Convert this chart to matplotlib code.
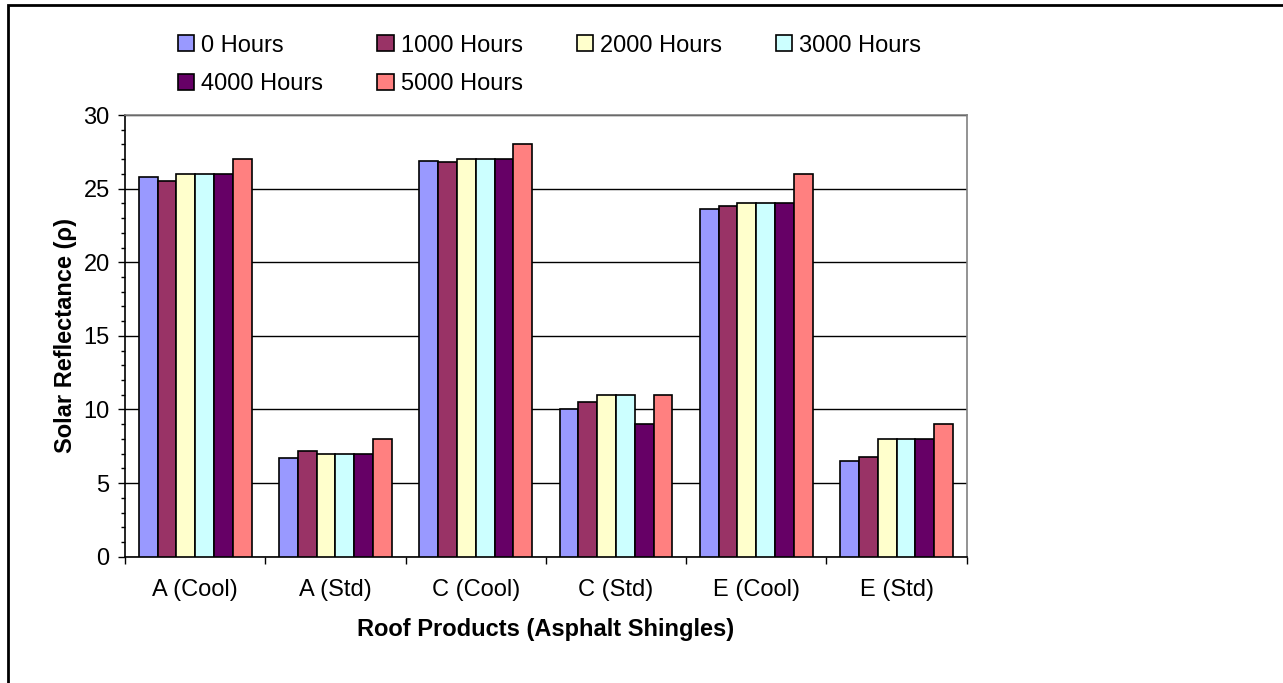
import matplotlib
matplotlib.use("Agg")
import matplotlib.pyplot as plt
import numpy as np
from matplotlib.patches import Rectangle
from matplotlib.ticker import MultipleLocator, FixedLocator, NullFormatter

plt.rcParams['font.family'] = ['Liberation Sans', 'DejaVu Sans']

categories = ["A (Cool)", "A (Std)", "C (Cool)", "C (Std)", "E (Cool)", "E (Std)"]
series_names = ["0 Hours", "1000 Hours", "2000 Hours", "3000 Hours", "4000 Hours", "5000 Hours"]
hours_0 = [25.8, 6.7, 26.9, 10.0, 23.6, 6.5]
hours_1000 = [25.5, 7.2, 26.8, 10.5, 23.8, 6.8]
hours_2000 = [26.0, 7.0, 27.0, 11.0, 24.0, 8.0]
hours_3000 = [26.0, 7.0, 27.0, 11.0, 24.0, 8.0]
hours_4000 = [26.0, 7.0, 27.0, 9.0, 24.0, 8.0]
hours_5000 = [27.0, 8.0, 28.0, 11.0, 26.0, 9.0]
series_values = [hours_0, hours_1000, hours_2000, hours_3000, hours_4000, hours_5000]
colors = ["#9999FF", "#993366", "#FFFFCC", "#CCFFFF", "#660066", "#FF8080"]

fig = plt.figure(figsize=(12.83, 6.83), dpi=100)
ax = fig.add_axes([125/1283, 1 - 556.7/683, (966.7 - 125)/1283, (556.7 - 115)/683])

x = np.arange(len(categories))
n = len(series_names)
bw = 0.134
handles = []
for i, (name, vals, c) in enumerate(zip(series_names, series_values, colors)):
    offs = (i - (n - 1) / 2) * bw
    h = ax.bar(x + offs, vals, width=bw, color=c, edgecolor="black", linewidth=1.2,
               label=name, zorder=3)
    handles.append(h)

ax.set_xlim(-0.5, len(categories) - 0.5)
ax.set_ylim(0, 30)
ax.yaxis.set_major_locator(MultipleLocator(5))
ax.yaxis.set_minor_locator(MultipleLocator(1))
ax.yaxis.grid(True, which="major", color="black", linewidth=1.0, zorder=0)
ax.set_axisbelow(True)

# x ticks: tick marks at category boundaries, labels at centers
ax.xaxis.set_major_locator(FixedLocator(np.arange(-0.5, len(categories), 1.0)))
ax.xaxis.set_major_formatter(NullFormatter())
ax.xaxis.set_minor_locator(FixedLocator(x))
ax.set_xticklabels(categories, minor=True)
ax.tick_params(axis="x", which="major", length=5, width=1, direction="out", color="black")
ax.tick_params(axis="x", which="minor", length=0, pad=16, labelsize=17)
ax.tick_params(axis="y", which="major", length=5, width=1, direction="out", labelsize=17, pad=6)
ax.tick_params(axis="y", which="minor", length=3, width=1, direction="out")

for s in ["left", "bottom"]:
    ax.spines[s].set_color("black")
    ax.spines[s].set_linewidth(1.2)
for s in ["top", "right"]:
    ax.spines[s].set_color("#808080")
    ax.spines[s].set_linewidth(1.2)

ax.set_xlabel("Roof Products (Asphalt Shingles)", fontsize=17, fontweight="bold", labelpad=12)
ax.set_ylabel("Solar Reflectance (\u03c1)", fontsize=17, fontweight="bold", labelpad=5)

order = [0, 4, 1, 5, 2, 3]
fig.legend([handles[k] for k in order], [series_names[k] for k in order],
           loc="upper left", bbox_to_anchor=(178/1283, 1 - 34.5/683), ncol=4,
           frameon=False, fontsize=17, handlelength=0.68, handleheight=0.68,
           handletextpad=0.3, columnspacing=2.3, labelspacing=0.72, borderpad=0,
           borderaxespad=0)

fig.add_artist(Rectangle((8/1283, -0.1), 1.2, 1.1 - 5/683, transform=fig.transFigure,
                         fill=False, edgecolor="black", linewidth=2.0))

fig.savefig("out.png", dpi=100, facecolor="white")
